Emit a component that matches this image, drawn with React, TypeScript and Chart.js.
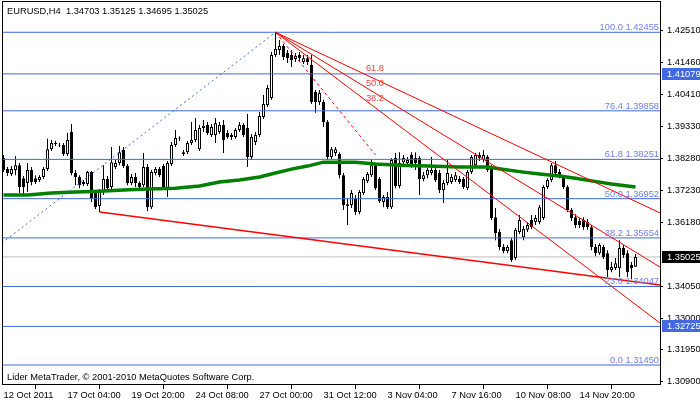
import React, { useEffect, useRef } from 'react';
import { Chart, registerables } from 'chart.js';

Chart.register(...registerables);

const FONT = '"Liberation Sans", Arial, sans-serif';
const FS = 9.3;

const SYMBOL = 'EURUSD,H4';

// H4 candles, bar 0 = 12 Oct 2011 12:00
const opens = [
  1.3830, 1.3793, 1.3777, 1.3790, 1.3806, 1.3763, 1.3747, 1.3790, 1.3763, 1.3757,
  1.3767, 1.3793, 1.3859, 1.3876, 1.3873, 1.3873, 1.3843, 1.3916, 1.3780, 1.3767,
  1.3744, 1.3744, 1.3783, 1.3714, 1.3671, 1.3720, 1.3760, 1.3734, 1.3800, 1.3813,
  1.3856, 1.3803, 1.3747, 1.3767, 1.3747, 1.3740, 1.3800, 1.3667, 1.3780, 1.3793,
  1.3803, 1.3730, 1.3810, 1.3873, 1.3896, 1.3843, 1.3849, 1.3879, 1.3889, 1.3859,
  1.3929, 1.3939, 1.3906, 1.3906, 1.3916, 1.3939, 1.3912, 1.3899, 1.3899, 1.3922,
  1.3939, 1.3929, 1.3833, 1.3883, 1.3906, 1.3965, 1.4005, 1.4028, 1.4170, 1.4187,
  1.4200, 1.4177, 1.4170, 1.4157, 1.4170, 1.4147, 1.4160, 1.4137, 1.4048, 1.4015,
  1.4015, 1.3949, 1.3833, 1.3846, 1.3843, 1.3773, 1.3677, 1.3674, 1.3697, 1.3651,
  1.3714, 1.3753, 1.3773, 1.3806, 1.3760, 1.3684, 1.3701, 1.3667, 1.3830, 1.3737,
  1.3816, 1.3813, 1.3840, 1.3830, 1.3830, 1.3760, 1.3773, 1.3780, 1.3790, 1.3780,
  1.3724, 1.3747, 1.3750, 1.3757, 1.3760, 1.3760, 1.3730, 1.3783, 1.3806, 1.3840,
  1.3823, 1.3833, 1.3797, 1.3634, 1.3585, 1.3535, 1.3522, 1.3558, 1.3499, 1.3585,
  1.3568, 1.3592, 1.3625, 1.3618, 1.3618, 1.3631, 1.3734, 1.3757, 1.3806, 1.3783,
  1.3767, 1.3734, 1.3658, 1.3634, 1.3621, 1.3625, 1.3618, 1.3601, 1.3535, 1.3515,
  1.3535, 1.3515, 1.3459, 1.3466, 1.3466, 1.3532, 1.3515, 1.3476, 1.34703,
];
const highs = [
  1.3840, 1.3800, 1.3803, 1.3836, 1.3813, 1.3770, 1.3813, 1.3800, 1.3773, 1.3773,
  1.3800, 1.3893, 1.3889, 1.3886, 1.3879, 1.3879, 1.3912, 1.3942, 1.3790, 1.3773,
  1.3757, 1.3787, 1.3787, 1.3724, 1.3727, 1.3806, 1.3770, 1.3866, 1.3823, 1.3869,
  1.3866, 1.3810, 1.3777, 1.3780, 1.3753, 1.3846, 1.3810, 1.3790, 1.3800, 1.3800,
  1.3810, 1.3820, 1.3883, 1.3922, 1.3902, 1.3856, 1.3886, 1.3949, 1.3962, 1.3939,
  1.3955, 1.3949, 1.3942, 1.3962, 1.3949, 1.3955, 1.3922, 1.3912, 1.3929, 1.3949,
  1.3945, 1.3975, 1.3909, 1.3916, 1.3982, 1.4038, 1.4071, 1.4180, 1.42455, 1.4220,
  1.4207, 1.4187, 1.4187, 1.4177, 1.4180, 1.4170, 1.4170, 1.4170, 1.4055, 1.4055,
  1.4022, 1.3955, 1.3866, 1.3866, 1.3849, 1.3780, 1.3697, 1.3724, 1.3707, 1.3724,
  1.3767, 1.3783, 1.3823, 1.3813, 1.3767, 1.3707, 1.3717, 1.3830, 1.3846, 1.3849,
  1.3840, 1.3833, 1.3849, 1.3849, 1.3836, 1.3783, 1.3797, 1.3833, 1.3800, 1.3790,
  1.3757, 1.3823, 1.3777, 1.3783, 1.3770, 1.3767, 1.3790, 1.3840, 1.3846, 1.3849,
  1.3856, 1.3840, 1.3806, 1.3664, 1.3595, 1.3545, 1.3542, 1.3565, 1.3598, 1.3641,
  1.3605, 1.3618, 1.3641, 1.3641, 1.3674, 1.3740, 1.3763, 1.3813, 1.3820, 1.3793,
  1.3773, 1.3740, 1.3664, 1.3644, 1.3631, 1.3634, 1.3628, 1.3608, 1.3545, 1.3548,
  1.3542, 1.3525, 1.3486, 1.3499, 1.3558, 1.3542, 1.3525, 1.3486, 1.35125,
];
const lows = [
  1.3783, 1.3770, 1.3770, 1.3773, 1.3714, 1.3707, 1.3717, 1.3740, 1.3744, 1.3750,
  1.3760, 1.3787, 1.3853, 1.3869, 1.3866, 1.3836, 1.3836, 1.3773, 1.3740, 1.3730,
  1.3737, 1.3737, 1.3684, 1.3661, 1.3651, 1.3707, 1.3724, 1.3727, 1.3793, 1.3806,
  1.3797, 1.3740, 1.3740, 1.3734, 1.3724, 1.3734, 1.3654, 1.3661, 1.3773, 1.3767,
  1.3727, 1.3701, 1.3803, 1.3866, 1.3886, 1.3836, 1.3843, 1.3873, 1.3883, 1.3853,
  1.3916, 1.3906, 1.3899, 1.3879, 1.3909, 1.3846, 1.3893, 1.3889, 1.3893, 1.3916,
  1.3899, 1.3800, 1.3823, 1.3873, 1.3899, 1.3959, 1.3998, 1.4022, 1.4164, 1.4170,
  1.4154, 1.4144, 1.4131, 1.4147, 1.4150, 1.4141, 1.4137, 1.4008, 1.3979, 1.4005,
  1.3932, 1.3823, 1.3826, 1.3836, 1.3763, 1.3658, 1.3608, 1.3664, 1.3641, 1.3644,
  1.3707, 1.3747, 1.3767, 1.3724, 1.3681, 1.3667, 1.3661, 1.3661, 1.3730, 1.3730,
  1.3806, 1.3806, 1.3797, 1.3790, 1.3707, 1.3753, 1.3763, 1.3773, 1.3750, 1.3714,
  1.3681, 1.3740, 1.3744, 1.3750, 1.3744, 1.3727, 1.3724, 1.3777, 1.3800, 1.3820,
  1.3816, 1.3783, 1.3625, 1.3558, 1.3525, 1.3515, 1.3515, 1.3486, 1.3492, 1.3578,
  1.3558, 1.3585, 1.3595, 1.3608, 1.3611, 1.3625, 1.3727, 1.3750, 1.3773, 1.3763,
  1.3727, 1.3651, 1.3621, 1.3598, 1.3598, 1.3592, 1.3592, 1.3525, 1.3505, 1.3509,
  1.3496, 1.3436, 1.3452, 1.3459, 1.3436, 1.3499, 1.3436, 1.3429, 1.34695,
];
const closes = [
  1.3790, 1.3780, 1.3793, 1.3806, 1.3734, 1.3734, 1.3790, 1.3750, 1.3750, 1.3767,
  1.3793, 1.3859, 1.3879, 1.3879, 1.3871, 1.3843, 1.3889, 1.3780, 1.3767, 1.3740,
  1.3750, 1.3783, 1.3697, 1.3667, 1.3717, 1.3760, 1.3730, 1.3816, 1.3813, 1.3849,
  1.3803, 1.3747, 1.3767, 1.3747, 1.3734, 1.3800, 1.3667, 1.3783, 1.3793, 1.3773,
  1.3734, 1.3813, 1.3873, 1.3896, 1.3894, 1.3849, 1.3879, 1.3889, 1.3922, 1.3929,
  1.3936, 1.3912, 1.3932, 1.3945, 1.3939, 1.3889, 1.3899, 1.3906, 1.3922, 1.3939,
  1.3906, 1.3833, 1.3899, 1.3906, 1.3969, 1.4008, 1.4061, 1.4170, 1.4190, 1.4200,
  1.4164, 1.4160, 1.4154, 1.4167, 1.4160, 1.4160, 1.4147, 1.4015, 1.4015, 1.4045,
  1.3949, 1.3833, 1.3859, 1.3859, 1.3773, 1.3674, 1.3671, 1.3714, 1.3651, 1.3717,
  1.3760, 1.3777, 1.3806, 1.3730, 1.3687, 1.3701, 1.3667, 1.3823, 1.3737, 1.3813,
  1.3830, 1.3823, 1.3806, 1.3813, 1.3760, 1.3773, 1.3790, 1.3790, 1.3757, 1.3724,
  1.3747, 1.3780, 1.3767, 1.3773, 1.3750, 1.3734, 1.3783, 1.3833, 1.3840, 1.3830,
  1.3840, 1.3790, 1.3631, 1.3582, 1.3535, 1.3522, 1.3535, 1.3492, 1.3592, 1.3625,
  1.3595, 1.3608, 1.3601, 1.3631, 1.3667, 1.3734, 1.3757, 1.3806, 1.3780, 1.3773,
  1.3734, 1.3658, 1.3631, 1.3608, 1.3608, 1.3601, 1.3601, 1.3535, 1.3515, 1.3542,
  1.3502, 1.3459, 1.3469, 1.3482, 1.3532, 1.3509, 1.3452, 1.3466, 1.35025,
];

// Moving average read at sampled bars
const maBars = [0, 6, 12, 18, 24, 30, 36, 43, 49, 54, 59, 64, 68, 72, 76, 80, 84, 88, 93, 99, 106, 114, 121, 126, 130, 134, 139, 143, 147, 152, 158];
const maValues = [
  1.3707, 1.3707, 1.3714, 1.3717, 1.3720, 1.3724, 1.3727, 1.3730, 1.3737, 1.3750,
  1.3757, 1.3767, 1.3780, 1.3793, 1.3803, 1.3816, 1.3816, 1.3816, 1.3810, 1.3806,
  1.3803, 1.3800, 1.3800, 1.3790, 1.3783, 1.3777, 1.3770, 1.3763, 1.3754, 1.3744,
  1.3734,
];

// time axis
const timeTickBars = [0, 16, 32, 48, 64, 80, 96, 112, 128, 144];
const timeTickLabels = [
  '12 Oct 2011', '17 Oct 04:00', '19 Oct 20:00', '24 Oct 08:00', '27 Oct 00:00',
  '31 Oct 12:00', '3 Nov 04:00', '7 Nov 16:00', '10 Nov 08:00', '14 Nov 20:00',
];
// price axis
const priceTicks = [1.4251, 1.4146, 1.4041, 1.3933, 1.3828, 1.3723, 1.3618, 1.3405, 1.33, 1.3195, 1.309];
const Y_MIN = 1.30789;
const Y_MAX = 1.43457;
const X_MIN = -0.125;
const X_MAX = 164.125;

// Fibonacci retracement
const fibLevels = [100.0, 76.4, 61.8, 50.0, 38.2, 23.6, 0.0];
const fibPrices = [1.42455, 1.39858, 1.38251, 1.36952, 1.35654, 1.34047, 1.3145];
const fibAnchorBars = [-40, 68];
const fibAnchorPrices = [1.3145, 1.42455];
// horizontal lines
const hLinePrices = [1.41079, 1.32725];
// Fibonacci fan
const fanOriginBar = 68;
const fanOriginPrice = 1.42455;
const fanBaseBar = 93;
const fanBasePrice = 1.384;
const fanEndPrices = [1.3648, 1.3469, 1.3284];
const fanLabels = ['61.8', '50.0', '38.2'];
const fanLabelBar = 90.6;
const fanLabelPrices = [1.4125, 1.4077, 1.4026];
// trend line
const trendBars = [24, 164.125];
const trendPrices = [1.3651, 1.341];

const COPYRIGHT = 'Lider MetaTrader, \u00a9 2001-2010 MetaQuotes Software Corp.';
const BLUE = '#4169E1';

export default function App() {
  const ref = useRef<HTMLCanvasElement>(null);

  useEffect(() => {
    const canvas = ref.current;
    if (!canvas) return;
    const bars = opens.map((_, i) => i);
    const last = opens.length - 1;
    const bid = closes[last];

    const seg = (pts: { x: number; y: number }[], color: string, width: number, dash: number[], order: number) => ({
      type: 'line' as const,
      data: pts,
      borderColor: color,
      borderWidth: width,
      borderDash: dash,
      pointRadius: 0,
      tension: 0,
      order,
    });

    const datasets: any[] = [];
    // overlays on top (lowest order)
    fanEndPrices.forEach((p) =>
      datasets.push(seg([{ x: fanOriginBar, y: fanOriginPrice }, { x: X_MAX, y: p }], '#ff0000', 1, [], 0)),
    );
    datasets.push(seg([{ x: fanOriginBar, y: fanOriginPrice }, { x: fanBaseBar, y: fanBasePrice }], '#ff0000', 1, [3, 3], 0));
    datasets.push(seg([{ x: trendBars[0], y: trendPrices[0] }, { x: trendBars[1], y: trendPrices[1] }], '#ff0000', 1.5, [], 0));
    datasets.push(seg([{ x: fibAnchorBars[0], y: fibAnchorPrices[0] }, { x: fibAnchorBars[1], y: fibAnchorPrices[1] }], BLUE, 1, [2, 3], 0));
    [...fibPrices, ...hLinePrices].forEach((p) =>
      datasets.push(seg([{ x: X_MIN, y: p }, { x: X_MAX, y: p }], BLUE, 1, [], 0)),
    );
    datasets.push({
      ...seg(maBars.map((b, i) => ({ x: b, y: maValues[i] })), '#008000', 3.5, [], 1),
      borderCapStyle: 'butt',
    });
    datasets.push({
      type: 'bar',
      data: bars.map((i) => ({ x: i, y: [opens[i], closes[i]] })),
      backgroundColor: bars.map((i) => (closes[i] >= opens[i] ? '#ffffff' : '#000000')),
      borderColor: '#000000',
      borderWidth: 1,
      borderSkipped: false,
      barThickness: 3,
      grouped: false,
      inflateAmount: 0,
      order: 2,
    });
    datasets.push({
      type: 'bar',
      data: bars.map((i) => ({ x: i, y: [lows[i], highs[i]] })),
      backgroundColor: '#000000',
      borderWidth: 0,
      barThickness: 1,
      grouped: false,
      inflateAmount: 0,
      order: 3,
    });
    datasets.push(seg([{ x: X_MIN, y: bid }, { x: X_MAX, y: bid }], '#C0C0C0', 1, [], 4));

    const overlay = {
      id: 'mt4overlay',
      afterDatasetsDraw(chart: any) {
        const { ctx, chartArea: a, scales } = chart;
        const xs = scales.x;
        const ys = scales.y;
        ctx.save();
        ctx.font = `${FS}px ${FONT}`;
        // fib labels
        ctx.fillStyle = '#6f80e8';
        ctx.textAlign = 'right';
        ctx.textBaseline = 'alphabetic';
        fibLevels.forEach((lv, i) => {
          const py = ys.getPixelForValue(fibPrices[i]);
          ctx.fillText(`${lv.toFixed(1)} ${fibPrices[i].toFixed(5)}`, a.right - 1, py - 2);
        });
        // fan labels
        ctx.fillStyle = '#ff3a3a';
        ctx.textAlign = 'left';
        ctx.textBaseline = 'middle';
        fanLabels.forEach((t, i) => {
          ctx.fillText(t, xs.getPixelForValue(fanLabelBar), ys.getPixelForValue(fanLabelPrices[i]));
        });
        // title & copyright
        ctx.fillStyle = '#000';
        ctx.textBaseline = 'alphabetic';
        const title = `${SYMBOL}  ${opens[last].toFixed(5)} ${highs[last].toFixed(5)} ${lows[last].toFixed(5)} ${closes[last].toFixed(5)}`;
        ctx.fillText(title, 7, 14);
        ctx.fillText(COPYRIGHT, 7, 380);
        ctx.restore();
      },
      afterDraw(chart: any) {
        const { ctx, chartArea: a, scales } = chart;
        const ys = scales.y;
        ctx.save();
        ctx.strokeStyle = '#000';
        ctx.lineWidth = 1;
        ctx.strokeRect(2.5, 1.5, 658, 383);
        ctx.font = `${FS}px ${FONT}`;
        ctx.textAlign = 'left';
        ctx.textBaseline = 'middle';
        const box = (p: number, bg: string, fg: string) => {
          const py = Math.round(ys.getPixelForValue(p));
          ctx.fillStyle = bg;
          ctx.fillRect(a.right + 2, py - 6, 40, 12);
          ctx.fillStyle = fg;
          ctx.fillText(p.toFixed(5), a.right + 7, py);
        };
        hLinePrices.forEach((p) => box(p, BLUE, '#ffffff'));
        box(bid, '#000000', '#ffffff');
        ctx.restore();
      },
    };

    const chart = new Chart(canvas, {
      type: 'bar',
      data: { datasets },
      options: {
        animation: false,
        responsive: false,
        devicePixelRatio: 1,
        events: [],
        layout: { padding: { left: 3, top: 2, right: 0, bottom: 0 } },
        plugins: { legend: { display: false }, tooltip: { enabled: false } },
        scales: {
          x: {
            type: 'linear',
            min: X_MIN,
            max: X_MAX,
            offset: false,
            bounds: 'data',
            grid: { display: true, drawOnChartArea: false, drawTicks: true, tickLength: 4, color: '#000', lineWidth: 1 },
            border: { display: false },
            afterBuildTicks: (s: any) => {
              s.ticks = timeTickBars.map((v) => ({ value: v }));
            },
            afterFit: (s: any) => {
              s.height = 17;
              s.paddingLeft = 0;
              s.paddingRight = 0;
            },
            ticks: {
              autoSkip: false,
              maxRotation: 0,
              minRotation: 0,
              align: 'start',
              padding: 1,
              color: '#000',
              font: { family: FONT, size: FS },
              callback: (_v: any, i: number) => timeTickLabels[i],
            },
          },
          y: {
            type: 'linear',
            position: 'right',
            min: Y_MIN,
            max: Y_MAX,
            bounds: 'data',
            grid: { display: true, drawOnChartArea: false, drawTicks: true, tickLength: 3, color: '#000', lineWidth: 1 },
            border: { display: false },
            afterBuildTicks: (s: any) => {
              s.ticks = priceTicks.map((v) => ({ value: v }));
            },
            afterFit: (s: any) => {
              s.width = 40;
              s.paddingTop = 0;
              s.paddingBottom = 0;
            },
            ticks: {
              autoSkip: false,
              padding: 4,
              color: '#000',
              font: { family: FONT, size: FS },
              callback: (v: any) => Number(v).toFixed(5),
            },
          },
        },
      } as any,
      plugins: [overlay],
    });
    return () => chart.destroy();
  }, []);

  return (
    <div style={{ position: 'fixed', left: 0, top: 0, width: 700, height: 402, background: '#fff' }}>
      <canvas ref={ref} width={700} height={402} style={{ width: 700, height: 402, display: 'block' }} />
    </div>
  );
}
